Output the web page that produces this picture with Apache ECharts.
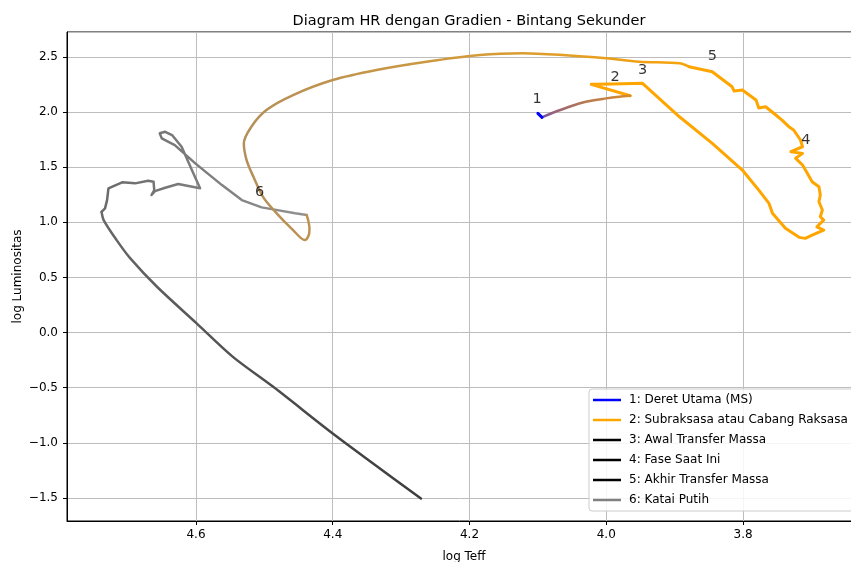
<!DOCTYPE html>
<html>
<head>
<meta charset="utf-8">
<script src="https://cdn.jsdelivr.net/npm/echarts@6/dist/echarts.min.js"></script>
<style>html,body{margin:0;padding:0;background:#fff;}#c{width:851px;height:562px;}</style>
</head>
<body>
<div id="c"></div>
<script>
// ---- data (log Teff, log L) ----
const msTrack = [[4.100,1.989],[4.094,1.953]];
const sgTrack = [[4.094,1.953],[4.079,1.992],[4.054,2.049],[4.030,2.094],[4.000,2.125],[3.981,2.140],[3.965,2.149]];
const giantLoop = [[3.965,2.149],[4.022,2.252],[3.991,2.255],[3.947,2.261],[3.893,1.958],[3.845,1.717],[3.801,1.475],[3.777,1.293],[3.762,1.172],[3.757,1.082],[3.738,0.946],[3.718,0.864],[3.709,0.855],[3.699,0.885],[3.682,0.930],[3.692,0.960],[3.682,1.021],[3.687,1.051],[3.684,1.112],[3.689,1.187],[3.687,1.248],[3.689,1.323],[3.699,1.368],[3.706,1.445],[3.713,1.520],[3.723,1.581],[3.713,1.626],[3.730,1.641],[3.713,1.686],[3.716,1.747],[3.726,1.838],[3.733,1.868],[3.743,1.928],[3.752,1.974],[3.767,2.049],[3.777,2.037],[3.781,2.110],[3.801,2.201],[3.813,2.191],[3.816,2.230],[3.845,2.367],[3.879,2.412]];
const topArc = [[3.879,2.412],[3.893,2.443],[3.952,2.457],[4.000,2.488],[4.064,2.518],[4.122,2.534],[4.185,2.518],[4.263,2.457],[4.336,2.382],[4.400,2.291],[4.458,2.155],[4.497,2.019],[4.519,1.868],[4.530,1.717],[4.526,1.565],[4.516,1.414],[4.502,1.232],[4.482,1.082],[4.458,0.930],[4.441,0.839],[4.435,0.885],[4.434,0.946],[4.436,1.021],[4.438,1.066]];
const grayTrack = [[4.438,1.066],[4.455,1.082],[4.487,1.118],[4.504,1.136],[4.533,1.202],[4.562,1.338],[4.601,1.535],[4.631,1.701],[4.650,1.762],[4.653,1.808],[4.645,1.822],[4.635,1.792],[4.621,1.686],[4.606,1.475],[4.594,1.309],[4.626,1.348],[4.645,1.314],[4.660,1.284],[4.665,1.248],[4.661,1.293],[4.662,1.368],[4.670,1.378],[4.689,1.354],[4.708,1.363],[4.728,1.309],[4.730,1.202],[4.733,1.127],[4.738,1.096]];
const wdTrack = [[4.738,1.096],[4.735,1.021],[4.716,0.839],[4.696,0.673],[4.657,0.416],[4.599,0.084],[4.546,-0.220],[4.487,-0.492],[4.400,-0.915],[4.341,-1.187],[4.271,-1.505]];
const labelTexts = ['1','2','3','4','5','6'];
const labelPos = [[4.101,2.119],[3.987,2.319],[3.947,2.382],[3.708,1.747],[3.845,2.509],[4.507,1.275]];
const legendNames = ['1: Deret Utama (MS)','2: Subraksasa atau Cabang Raksasa','3: Awal Transfer Massa','4: Fase Saat Ini','5: Akhir Transfer Massa','6: Katai Putih'];
const legendColors = ['#0000ff','#ffa500','#000000','#000000','#000000','#808080'];

const FONT = 'DejaVu Sans';
const chart = echarts.init(document.getElementById('c'), null, {renderer:'canvas'});
const G = echarts.graphic.LinearGradient;
const fmt = v => (Math.round(v*10)/10).toFixed(1).replace('-', '\u2212');

const series = [];
legendNames.forEach((n,i)=>{
  series.push({type:'line', name:n, data:[], symbol:'none', color:legendColors[i], lineStyle:{width:2.5, color:legendColors[i]}});
});
function track(data, color, width, smooth, z){
  return {type:'line', data:data, symbol:'none', smooth:smooth||false, silent:true, z:z||2,
    lineStyle:{color:color, width:width, cap:'round', join:'round'}};
}
series.push(track(grayTrack, new G(0,0,1,0,[{offset:0,color:'#6a6a6a'},{offset:0.5,color:'#7e7e7e'},{offset:1,color:'#929292'}]), 2.5, false, 2));
series.push(track(wdTrack, new G(0,0,0,1,[{offset:0,color:'#6a6a6a'},{offset:1,color:'#3c3c3c'}]), 2.5, 0.3, 2));
series.push(track(giantLoop, '#ffa500', 3, false, 3));
series.push(track(topArc, new G(0,0,1,0,[{offset:0,color:'#b48f5a'},{offset:0.5,color:'#d19a3c'},{offset:1,color:'#f8a30a'}]), 2.5, 0.3, 4));
series.push(track(sgTrack, new G(0,0,1,0,[{offset:0,color:'#6048b0'},{offset:0.15,color:'#98627a'},{offset:0.5,color:'#b87a50'},{offset:1,color:'#d68c28'}]), 2.5, 0.3, 5));
series.push(track(msTrack, '#0000ff', 3, false, 6));
series.push({type:'scatter', data:labelPos, symbolSize:1, itemStyle:{color:'rgba(0,0,0,0)'}, silent:true, z:10,
  label:{show:true, position:'inside', formatter:p=>labelTexts[p.dataIndex], fontSize:14.5, fontFamily:FONT, color:'#000'}});

chart.setOption({
  animation:false,
  backgroundColor:'#fff',
  title:{text:'Diagram HR dengan Gradien - Bintang Sekunder', left:464, textAlign:'center', top:9,
    textStyle:{fontFamily:FONT, fontSize:14.5, fontWeight:'normal', color:'#000'}},
  grid:{left:67, right:-10, top:32, bottom:41, show:true, borderColor:'#000', borderWidth:1, backgroundColor:'transparent',
    containLabel:false, outerBoundsMode:'none'},
  legend:{data:legendNames, orient:'vertical', left:589, top:389, icon:'rect', itemWidth:28, itemHeight:2.5, itemGap:0,
    padding:[1,12,1,4], backgroundColor:'rgba(255,255,255,0.85)', borderColor:'#cccccc', borderWidth:1, borderRadius:3,
    textStyle:{fontFamily:FONT, fontSize:12, color:'#000', lineHeight:20, padding:[0,0,0,3]}, z:20},
  xAxis:{type:'value', inverse:true, min:3.6275, max:4.7886, splitNumber:5,
    name:'log Teff', nameLocation:'middle', nameGap:30, nameMoveOverlap:false, nameTextStyle:{fontFamily:FONT, fontSize:12, color:'#000'},
    axisLine:{show:true, onZero:false, lineStyle:{color:'#000', width:1}},
    axisTick:{show:true, length:4, lineStyle:{color:'#000'}},
    axisLabel:{fontFamily:FONT, fontSize:12, color:'#000', margin:8, showMinLabel:false, showMaxLabel:false, formatter:fmt},
    splitLine:{show:true, lineStyle:{color:'#bdbdbd', width:1}}},
  yAxis:{type:'value', min:-1.709, max:2.727, splitNumber:9,
    name:'log Luminositas', nameLocation:'middle', nameGap:43, nameMoveOverlap:false, nameRotate:90, nameTextStyle:{fontFamily:FONT, fontSize:12, color:'#000'},
    axisLine:{show:true, onZero:false, lineStyle:{color:'#000', width:1}},
    axisTick:{show:true, length:4, lineStyle:{color:'#000'}},
    axisLabel:{fontFamily:FONT, fontSize:12, color:'#000', margin:9, showMinLabel:false, showMaxLabel:false, formatter:fmt},
    splitLine:{show:true, lineStyle:{color:'#bdbdbd', width:1}}},
  series:series
});
</script>
</body>
</html>
